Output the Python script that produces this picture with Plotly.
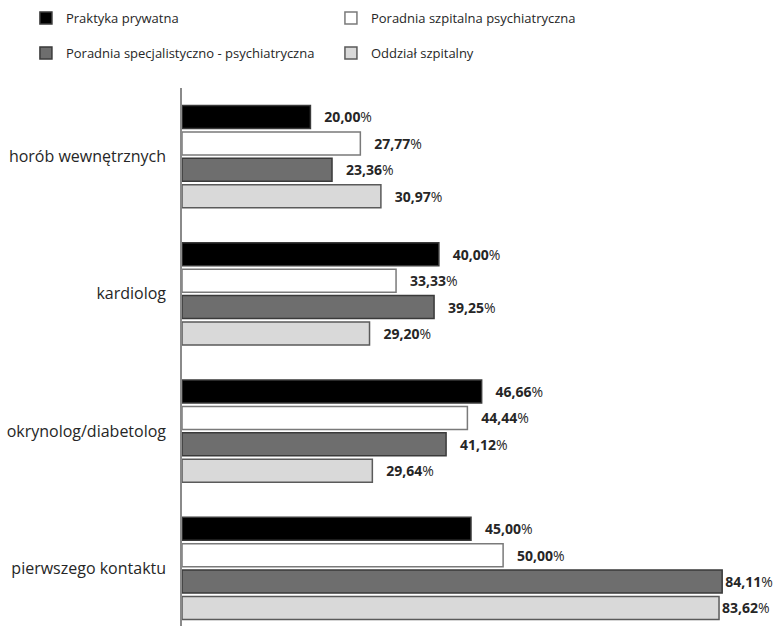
import plotly.graph_objects as go

categories = ["horób wewnętrznych", "kardiolog", "okrynolog/diabetolog", "pierwszego kontaktu"]
series_names = ["Praktyka prywatna", "Poradnia szpitalna psychiatryczna",
                "Poradnia specjalistyczno - psychiatryczna", "Oddział szpitalny"]
praktyka = [20.00, 40.00, 46.66, 45.00]
szpitalna = [27.77, 33.33, 44.44, 50.00]
specjalistyczna = [23.36, 39.25, 41.12, 84.11]
oddzial = [30.97, 29.20, 29.64, 83.62]
values = [praktyka, szpitalna, specjalistyczna, oddzial]

fills = ["#000000", "#FFFFFF", "#6E6E6E", "#D9D9D9"]
edges = ["#3a3a3a", "#7a7a7a", "#3a3a3a", "#5a5a5a"]
legends = ["legend", "legend", "legend2", "legend2"]

def label(v):
    s = f"{v:.2f}".replace(".", ",")
    pad = "" if v > 80 else "\u00a0\u00a0\u00a0"
    return f"{pad}<b>{s}</b>%"

fig = go.Figure()
for name, vals, fc, ec, lg in zip(series_names, values, fills, edges, legends):
    fig.add_trace(go.Bar(
        y=categories, x=vals, name=name, orientation="h",
        marker=dict(color=fc, line=dict(color=ec, width=1.5)),
        text=[label(v) for v in vals], textposition="outside",
        textfont=dict(family="Open Sans", size=14, color="#262626"),
        constraintext="none", cliponaxis=False, legend=lg,
    ))

fig.update_layout(
    width=776, height=626,
    margin=dict(l=182, r=16, t=88, b=0),
    paper_bgcolor="white", plot_bgcolor="white",
    barmode="group", bargap=0.23, bargroupgap=0.13,
    font=dict(family="Open Sans", size=13, color="#262626"),
    showlegend=True,
    legend=dict(orientation="h", x=-0.27, xanchor="left", y=1.158, yanchor="top",
                entrywidth=260, font=dict(size=13), bgcolor="rgba(0,0,0,0)"),
    legend2=dict(orientation="h", x=-0.27, xanchor="left", y=1.093, yanchor="top",
                 entrywidth=260, font=dict(size=13), bgcolor="rgba(0,0,0,0)"),
    xaxis=dict(range=[0, 90], visible=False, showgrid=False, zeroline=False),
    yaxis=dict(range=[3.42, -0.5], showline=True, linecolor="#8a8a8a", linewidth=1.5,
               showgrid=False, ticks="", ticklabelstandoff=11,
               tickfont=dict(family="Open Sans", size=16, color="#262626")),
)

fig.write_html("out.html")
